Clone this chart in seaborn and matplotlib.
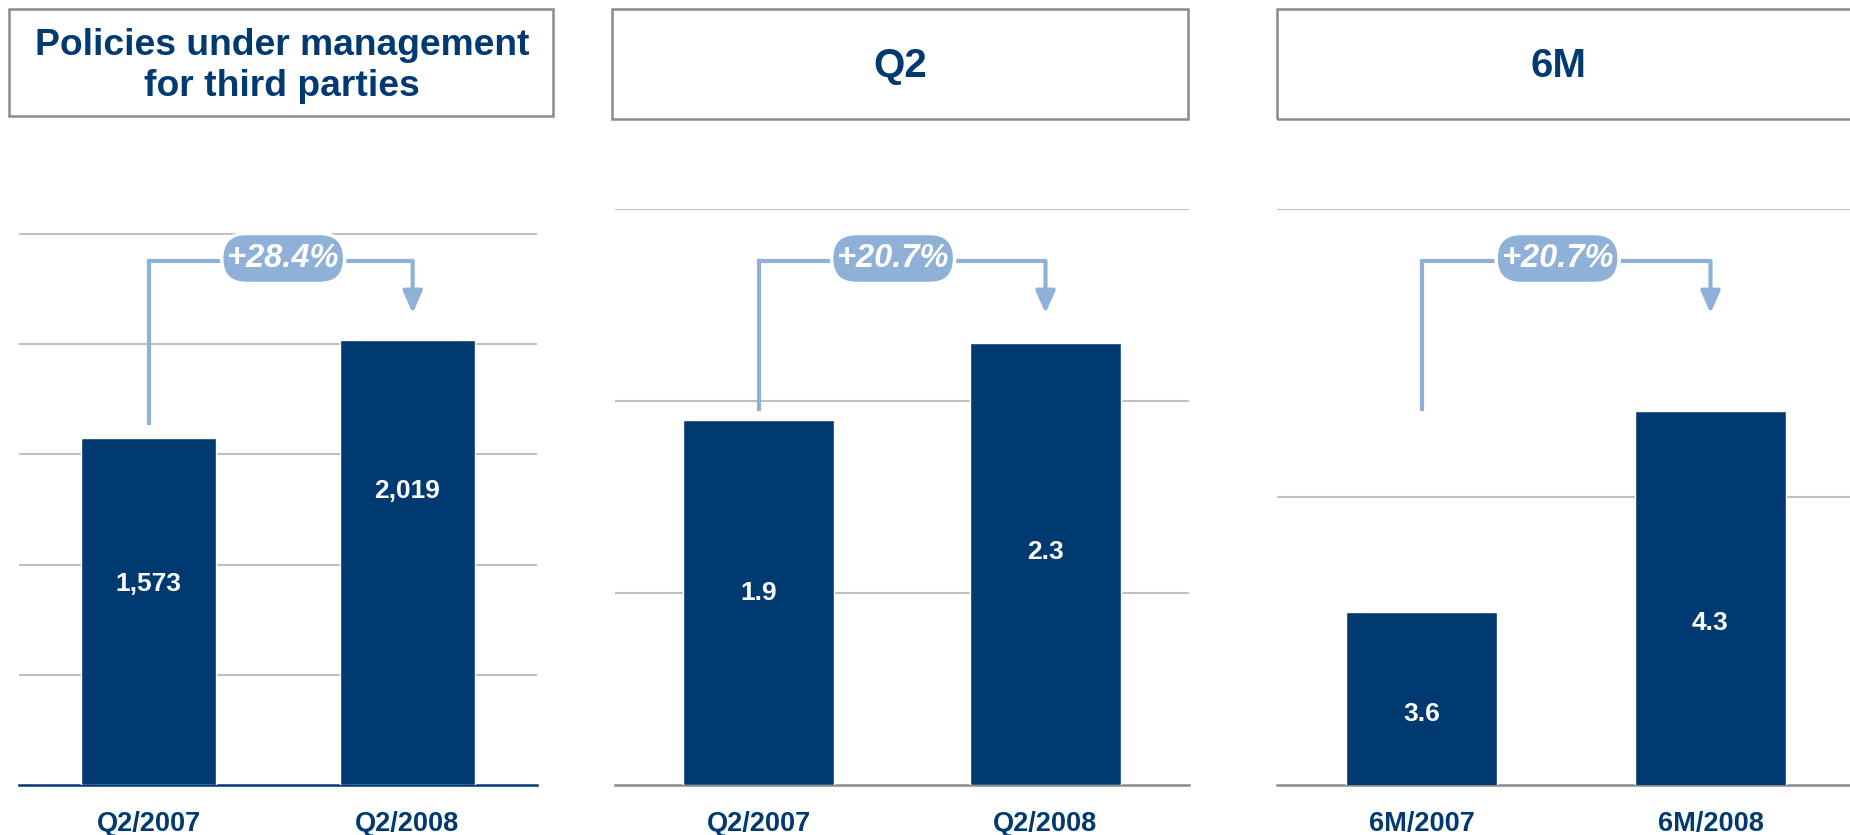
import matplotlib
matplotlib.use("Agg")
import matplotlib.pyplot as plt
from matplotlib.patches import Rectangle, FancyBboxPatch
import seaborn as sns

# ---- data -------------------------------------------------------------
policy_periods = ["Q2/2007", "Q2/2008"]
policy_counts = [1573, 2019]
policy_growth = "+28.4%"

q2_periods = ["Q2/2007", "Q2/2008"]
q2_values = [1.9, 2.3]
q2_growth = "+20.7%"

h1_periods = ["6M/2007", "6M/2008"]
h1_values = [3.6, 4.3]
h1_growth = "+20.7%"

panel_titles = ["Policies under management\nfor third parties", "Q2", "6M"]

# ---- style ------------------------------------------------------------
NAVY = "#003A70"
BUBBLE = "#8FB1D8"
GRID = "#C0C0C0"
FRAME = "#8A8A8A"

sns.set_theme(style="white")
plt.rcParams["font.family"] = ["Liberation Sans", "DejaVu Sans"]
plt.rcParams["font.weight"] = "bold"

W, H = 1850, 835
DPI = 100
fig = plt.figure(figsize=(W / DPI, H / DPI), dpi=DPI)


def fx(px):
    return px / W


def fy(py):
    return 1 - py / H


AX_TOP, AX_BOT = 209, 785
BRACKET_Y = 0.910      # axes fraction of the bracket's horizontal run
ARROW_TIP = 0.819      # axes fraction of the arrow tip
BUBBLE_W, BUBBLE_H = 123, 50   # pixels
BUBBLE_CY = 258.5              # pixel row of bubble centre

panels = [
    dict(x0=19, x1=537, cats=policy_periods, vals=policy_counts, fmt="{:,.0f}",
         ylim=(0, 2613), grid=[500, 1000, 1500, 2000, 2500], label_y=[912, 1334],
         growth=policy_growth, spine=NAVY, stem=0.625, arrow_x=1.02,
         bubble_x=0.52, box=(9, 9, 553, 116), title_x=282, title_y=66,
         title_size=26.8),
    dict(x0=615, x1=1189, cats=q2_periods, vals=q2_values, fmt="{:.1f}",
         ylim=(0, 3.0), grid=[1, 2, 3], label_y=[1.0, 1.216],
         growth=q2_growth, spine=FRAME, stem=0.649, arrow_x=1.0,
         bubble_x=0.469, box=(612, 9, 1188, 119), title_x=900, title_y=66,
         title_size=29),
    dict(x0=1277, x1=1855, cats=h1_periods, vals=h1_values, fmt="{:.1f}",
         ylim=(3.0, 5.0), grid=[4, 5], label_y=[3.247, 3.564],
         growth=h1_growth, spine=FRAME, stem=0.649, arrow_x=1.0,
         bubble_x=0.471, box=(1277, 9, 1900, 119), title_x=1558, title_y=66,
         title_size=29),
]

for p, title in zip(panels, panel_titles):
    ax = fig.add_axes([fx(p["x0"]), fy(AX_BOT), fx(p["x1"]) - fx(p["x0"]),
                       (AX_BOT - AX_TOP) / H])
    sns.barplot(x=p["cats"], y=p["vals"], color=NAVY, saturation=1,
                width=0.525, ax=ax, zorder=3)
    ax.set_xlim(-0.5, 1.5)
    ax.set_ylim(*p["ylim"])
    ax.set_yticks(p["grid"])
    ax.set_yticklabels([])
    ax.tick_params(axis="y", length=0)
    ax.grid(axis="y", color=GRID, lw=1.5, zorder=0)
    ax.grid(axis="x", visible=False)
    ax.set_axisbelow(True)
    for side in ("left", "right", "top"):
        ax.spines[side].set_visible(False)
    ax.spines["bottom"].set_color(p["spine"])
    ax.spines["bottom"].set_linewidth(1.8)

    # category labels and boundary ticks
    ax.set_xticks([0, 1])
    ax.set_xticklabels(p["cats"], fontsize=19.5, fontweight="bold", color=NAVY)
    ax.tick_params(axis="x", which="major", length=0, pad=18.5)
    ax.set_xticks([-0.5, 0.5, 1.5], minor=True)
    ax.tick_params(axis="x", which="minor", length=6, width=1.8,
                   color=p["spine"], direction="out")
    ax.set_xlabel("")
    ax.set_ylabel("")

    # values inside the bars
    for i, (v, ly) in enumerate(zip(p["vals"], p["label_y"])):
        ax.text(i, ly, p["fmt"].format(v), ha="center", va="center",
                color="white", fontsize=19, fontweight="bold", zorder=4)

    # growth bracket: stem over the first bar, arrow onto the second
    trans = ax.get_xaxis_transform()
    ax.plot([0, 0, p["arrow_x"]], [p["stem"], BRACKET_Y, BRACKET_Y],
            transform=trans, color=BUBBLE, lw=3.0, solid_joinstyle="miter",
            solid_capstyle="butt", clip_on=False, zorder=4)
    ax.annotate("", xy=(p["arrow_x"], ARROW_TIP), xycoords=trans,
                xytext=(p["arrow_x"], BRACKET_Y), textcoords=trans,
                arrowprops=dict(arrowstyle="-|>,head_length=0.95,head_width=0.42",
                                mutation_scale=14, color=BUBBLE, lw=3.0,
                                shrinkA=0, shrinkB=0),
                annotation_clip=False, zorder=4)

    # growth bubble (pill shape, sized in pixels)
    cx = p["x0"] + (p["bubble_x"] + 0.5) / 2 * (p["x1"] - p["x0"])
    fig.add_artist(FancyBboxPatch(
        ((cx - BUBBLE_W / 2) / DPI, (H - BUBBLE_CY - BUBBLE_H / 2) / DPI),
        BUBBLE_W / DPI, BUBBLE_H / DPI,
        boxstyle=f"round,pad=0,rounding_size={BUBBLE_H / 2 / DPI}",
        transform=fig.dpi_scale_trans, fc=BUBBLE, ec="white", lw=2.5,
        zorder=6))
    fig.text(fx(cx), fy(BUBBLE_CY), p["growth"], ha="center", va="center",
             fontsize=23.5, fontweight="bold", style="italic", color="white",
             zorder=7)

    # title box
    bx0, by0, bx1, by1 = p["box"]
    fig.add_artist(Rectangle((fx(bx0), fy(by1)), fx(bx1) - fx(bx0),
                             (by1 - by0) / H, transform=fig.transFigure,
                             fill=False, ec=FRAME, lw=1.8))
    fig.text(fx(p["title_x"]), fy(p["title_y"]), title, ha="center",
             va="center", fontsize=p["title_size"], fontweight="bold",
             color=NAVY, linespacing=1.2)

fig.savefig("out.png", dpi=DPI, facecolor="white")
